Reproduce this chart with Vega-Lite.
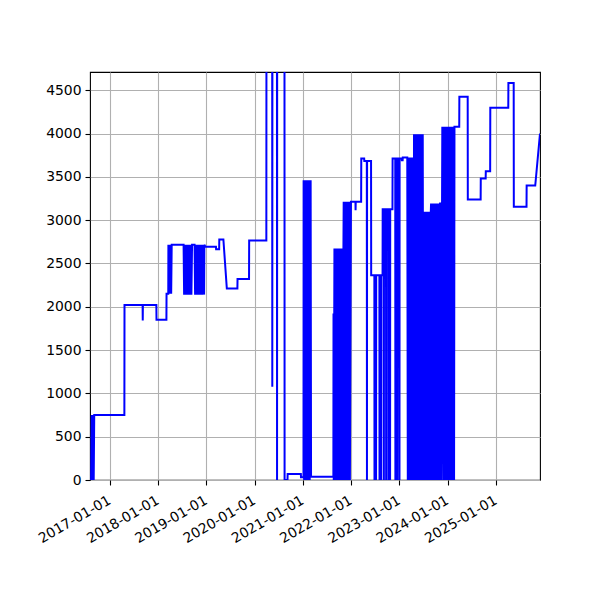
{
  "$schema": "https://vega.github.io/schema/vega-lite/v6.json",
  "width": 450,
  "height": 408,
  "autosize": {"type": "none"},
  "padding": {"left": 90, "top": 72, "right": 60, "bottom": 120},
  "background": "white",
  "data": {
    "values": [
      {"date": "2016-08-12", "value": 0},
      {"date": "2016-08-17", "value": 750},
      {"date": "2016-08-22", "value": 0},
      {"date": "2016-08-27", "value": 750},
      {"date": "2016-09-01", "value": 0},
      {"date": "2016-09-05", "value": 750},
      {"date": "2017-04-21", "value": 750},
      {"date": "2017-04-22", "value": 2020},
      {"date": "2017-09-06", "value": 2020},
      {"date": "2017-09-07", "value": 1840},
      {"date": "2017-09-08", "value": 2020},
      {"date": "2017-12-19", "value": 2020},
      {"date": "2017-12-20", "value": 1850},
      {"date": "2018-03-05", "value": 1850},
      {"date": "2018-03-06", "value": 2150},
      {"date": "2018-03-19", "value": 2150},
      {"date": "2018-03-20", "value": 2715},
      {"date": "2018-03-27", "value": 2150},
      {"date": "2018-04-03", "value": 2715},
      {"date": "2018-04-10", "value": 2150},
      {"date": "2018-04-14", "value": 2715},
      {"date": "2018-07-13", "value": 2715},
      {"date": "2018-07-17", "value": 2140},
      {"date": "2018-07-24", "value": 2715},
      {"date": "2018-07-31", "value": 2140},
      {"date": "2018-08-07", "value": 2715},
      {"date": "2018-08-14", "value": 2140},
      {"date": "2018-08-21", "value": 2715},
      {"date": "2018-08-28", "value": 2140},
      {"date": "2018-09-04", "value": 2715},
      {"date": "2018-09-10", "value": 2140},
      {"date": "2018-09-15", "value": 2715},
      {"date": "2018-10-04", "value": 2715},
      {"date": "2018-10-08", "value": 2140},
      {"date": "2018-10-15", "value": 2715},
      {"date": "2018-10-22", "value": 2140},
      {"date": "2018-10-29", "value": 2715},
      {"date": "2018-11-05", "value": 2140},
      {"date": "2018-11-12", "value": 2715},
      {"date": "2018-11-19", "value": 2140},
      {"date": "2018-11-26", "value": 2715},
      {"date": "2018-12-03", "value": 2140},
      {"date": "2018-12-10", "value": 2715},
      {"date": "2018-12-15", "value": 2140},
      {"date": "2018-12-17", "value": 2715},
      {"date": "2018-12-25", "value": 2692},
      {"date": "2019-03-15", "value": 2692},
      {"date": "2019-03-16", "value": 2665},
      {"date": "2019-04-08", "value": 2665},
      {"date": "2019-04-09", "value": 2777},
      {"date": "2019-05-10", "value": 2777},
      {"date": "2019-06-05", "value": 2210},
      {"date": "2019-08-24", "value": 2210},
      {"date": "2019-08-25", "value": 2320},
      {"date": "2019-11-20", "value": 2320},
      {"date": "2019-11-21", "value": 2765},
      {"date": "2020-03-30", "value": 2765},
      {"date": "2020-03-31", "value": 6000},
      {"date": "2020-05-13", "value": 6000},
      {"date": "2020-05-14", "value": 1077},
      {"date": "2020-05-15", "value": 6000},
      {"date": "2020-06-18", "value": 6000},
      {"date": "2020-06-19", "value": 0},
      {"date": "2020-06-20", "value": 6000},
      {"date": "2020-08-14", "value": 6000},
      {"date": "2020-08-15", "value": 0},
      {"date": "2020-09-06", "value": 0},
      {"date": "2020-09-07", "value": 69},
      {"date": "2020-12-16", "value": 69},
      {"date": "2020-12-17", "value": 31},
      {"date": "2021-01-05", "value": 31},
      {"date": "2021-01-06", "value": 3461},
      {"date": "2021-01-10", "value": 0},
      {"date": "2021-01-17", "value": 3461},
      {"date": "2021-01-24", "value": 0},
      {"date": "2021-01-31", "value": 3461},
      {"date": "2021-02-07", "value": 0},
      {"date": "2021-02-14", "value": 3461},
      {"date": "2021-02-21", "value": 0},
      {"date": "2021-02-28", "value": 3461},
      {"date": "2021-03-03", "value": 38},
      {"date": "2021-08-19", "value": 38},
      {"date": "2021-08-20", "value": 1923},
      {"date": "2021-08-22", "value": 0},
      {"date": "2021-08-27", "value": 2673},
      {"date": "2021-09-03", "value": 0},
      {"date": "2021-09-10", "value": 2673},
      {"date": "2021-09-17", "value": 0},
      {"date": "2021-09-24", "value": 2673},
      {"date": "2021-10-01", "value": 0},
      {"date": "2021-10-08", "value": 2673},
      {"date": "2021-10-15", "value": 0},
      {"date": "2021-10-22", "value": 2673},
      {"date": "2021-10-29", "value": 0},
      {"date": "2021-11-03", "value": 2673},
      {"date": "2021-11-05", "value": 3211},
      {"date": "2021-11-10", "value": 0},
      {"date": "2021-11-17", "value": 3211},
      {"date": "2021-11-24", "value": 0},
      {"date": "2021-12-01", "value": 3211},
      {"date": "2021-12-08", "value": 0},
      {"date": "2021-12-15", "value": 3211},
      {"date": "2021-12-22", "value": 0},
      {"date": "2021-12-30", "value": 3211},
      {"date": "2022-02-02", "value": 3211},
      {"date": "2022-02-03", "value": 3115},
      {"date": "2022-02-04", "value": 3211},
      {"date": "2022-03-17", "value": 3211},
      {"date": "2022-03-18", "value": 3710},
      {"date": "2022-04-09", "value": 3710},
      {"date": "2022-04-10", "value": 3684},
      {"date": "2022-04-29", "value": 3684},
      {"date": "2022-04-30", "value": 0},
      {"date": "2022-05-01", "value": 3684},
      {"date": "2022-05-31", "value": 3684},
      {"date": "2022-06-01", "value": 2365},
      {"date": "2022-06-25", "value": 2365},
      {"date": "2022-06-26", "value": 0},
      {"date": "2022-06-27", "value": 2365},
      {"date": "2022-07-07", "value": 2365},
      {"date": "2022-07-08", "value": 0},
      {"date": "2022-07-09", "value": 2365},
      {"date": "2022-08-02", "value": 2365},
      {"date": "2022-08-03", "value": 0},
      {"date": "2022-08-04", "value": 2365},
      {"date": "2022-08-15", "value": 2365},
      {"date": "2022-08-16", "value": 0},
      {"date": "2022-08-17", "value": 2365},
      {"date": "2022-08-26", "value": 2365},
      {"date": "2022-08-27", "value": 3127},
      {"date": "2022-09-04", "value": 3127},
      {"date": "2022-09-05", "value": 0},
      {"date": "2022-09-06", "value": 3127},
      {"date": "2022-09-21", "value": 3127},
      {"date": "2022-09-22", "value": 0},
      {"date": "2022-09-23", "value": 3127},
      {"date": "2022-10-08", "value": 3127},
      {"date": "2022-10-09", "value": 0},
      {"date": "2022-10-10", "value": 3127},
      {"date": "2022-10-21", "value": 3127},
      {"date": "2022-10-22", "value": 0},
      {"date": "2022-10-23", "value": 3127},
      {"date": "2022-11-09", "value": 3127},
      {"date": "2022-11-10", "value": 3710},
      {"date": "2022-11-30", "value": 3710},
      {"date": "2022-12-01", "value": 0},
      {"date": "2022-12-02", "value": 3710},
      {"date": "2022-12-15", "value": 3710},
      {"date": "2022-12-16", "value": 0},
      {"date": "2022-12-17", "value": 3710},
      {"date": "2022-12-31", "value": 3710},
      {"date": "2023-01-01", "value": 0},
      {"date": "2023-01-02", "value": 3710},
      {"date": "2023-01-18", "value": 3710},
      {"date": "2023-01-19", "value": 3690},
      {"date": "2023-01-25", "value": 3690},
      {"date": "2023-01-26", "value": 3723},
      {"date": "2023-03-01", "value": 3723},
      {"date": "2023-03-05", "value": 0},
      {"date": "2023-03-12", "value": 3723},
      {"date": "2023-03-19", "value": 0},
      {"date": "2023-03-26", "value": 3723},
      {"date": "2023-04-02", "value": 0},
      {"date": "2023-04-09", "value": 3723},
      {"date": "2023-04-16", "value": 0},
      {"date": "2023-04-21", "value": 3992},
      {"date": "2023-04-28", "value": 0},
      {"date": "2023-05-05", "value": 3992},
      {"date": "2023-05-12", "value": 0},
      {"date": "2023-05-19", "value": 3992},
      {"date": "2023-05-26", "value": 0},
      {"date": "2023-06-02", "value": 3992},
      {"date": "2023-06-09", "value": 0},
      {"date": "2023-06-16", "value": 3992},
      {"date": "2023-06-22", "value": 0},
      {"date": "2023-06-26", "value": 3992},
      {"date": "2023-06-30", "value": 0},
      {"date": "2023-07-03", "value": 3096},
      {"date": "2023-07-10", "value": 0},
      {"date": "2023-07-17", "value": 3096},
      {"date": "2023-07-24", "value": 0},
      {"date": "2023-07-31", "value": 3096},
      {"date": "2023-08-07", "value": 0},
      {"date": "2023-08-14", "value": 3096},
      {"date": "2023-08-21", "value": 0},
      {"date": "2023-08-26", "value": 3096},
      {"date": "2023-08-28", "value": 3192},
      {"date": "2023-09-02", "value": 0},
      {"date": "2023-09-09", "value": 3192},
      {"date": "2023-09-16", "value": 0},
      {"date": "2023-09-23", "value": 3192},
      {"date": "2023-09-30", "value": 0},
      {"date": "2023-10-07", "value": 3192},
      {"date": "2023-10-14", "value": 0},
      {"date": "2023-10-21", "value": 3192},
      {"date": "2023-10-28", "value": 0},
      {"date": "2023-11-04", "value": 3192},
      {"date": "2023-11-09", "value": 3192},
      {"date": "2023-11-12", "value": 0},
      {"date": "2023-11-21", "value": 4077},
      {"date": "2023-11-28", "value": 0},
      {"date": "2023-12-05", "value": 4077},
      {"date": "2023-12-12", "value": 0},
      {"date": "2023-12-19", "value": 4077},
      {"date": "2023-12-26", "value": 0},
      {"date": "2024-01-02", "value": 4077},
      {"date": "2024-01-09", "value": 0},
      {"date": "2024-01-16", "value": 4077},
      {"date": "2024-01-23", "value": 0},
      {"date": "2024-01-30", "value": 4077},
      {"date": "2024-02-06", "value": 0},
      {"date": "2024-02-13", "value": 4077},
      {"date": "2024-02-18", "value": 0},
      {"date": "2024-02-21", "value": 4077},
      {"date": "2024-03-28", "value": 4077},
      {"date": "2024-03-29", "value": 4423},
      {"date": "2024-05-31", "value": 4423},
      {"date": "2024-06-01", "value": 3238},
      {"date": "2024-09-06", "value": 3238},
      {"date": "2024-09-07", "value": 3481},
      {"date": "2024-10-14", "value": 3481},
      {"date": "2024-10-15", "value": 3565},
      {"date": "2024-11-17", "value": 3565},
      {"date": "2024-11-18", "value": 4296},
      {"date": "2025-04-03", "value": 4296},
      {"date": "2025-04-04", "value": 4584},
      {"date": "2025-05-14", "value": 4584},
      {"date": "2025-05-15", "value": 3154},
      {"date": "2025-08-19", "value": 3154},
      {"date": "2025-08-20", "value": 3400},
      {"date": "2025-10-24", "value": 3400},
      {"date": "2025-11-29", "value": 4000}
    ]
  },
  "mark": {"type": "line", "color": "#0000ff", "strokeWidth": 2, "clip": true},
  "encoding": {
    "x": {
      "field": "date",
      "type": "temporal",
      "scale": {
        "type": "utc",
        "domain": [
          {"year": 2016, "month": 8, "date": 4, "utc": true},
          {"year": 2025, "month": 11, "date": 29, "utc": true}
        ]
      },
      "axis": {
        "title": null,
        "format": "%Y-%m-%d",
        "values": [
          {"year": 2017, "month": 1, "date": 1, "utc": true},
          {"year": 2018, "month": 1, "date": 1, "utc": true},
          {"year": 2019, "month": 1, "date": 1, "utc": true},
          {"year": 2020, "month": 1, "date": 1, "utc": true},
          {"year": 2021, "month": 1, "date": 1, "utc": true},
          {"year": 2022, "month": 1, "date": 1, "utc": true},
          {"year": 2023, "month": 1, "date": 1, "utc": true},
          {"year": 2024, "month": 1, "date": 1, "utc": true},
          {"year": 2025, "month": 1, "date": 1, "utc": true}
        ],
        "labelAngle": -30,
        "labelAlign": "right",
        "labelBaseline": "top",
        "labelPadding": 8,
        "labelOffset": -4
      }
    },
    "y": {
      "field": "value",
      "type": "quantitative",
      "scale": {"domain": [0, 4710], "nice": false, "zero": true},
      "axis": {
        "title": null,
        "values": [0, 500, 1000, 1500, 2000, 2500, 3000, 3500, 4000, 4500],
        "format": "d",
        "labelPadding": 4
      }
    }
  },
  "config": {
    "view": {"stroke": "black", "strokeWidth": 1.1},
    "axis": {
      "grid": true,
      "gridColor": "#b0b0b0",
      "gridWidth": 1.1,
      "gridOpacity": 1,
      "domain": false,
      "tickColor": "black",
      "tickWidth": 1.1,
      "tickSize": 5,
      "labelColor": "black",
      "labelFont": "DejaVu Sans",
      "labelFontSize": 13.9,
      "labelOverlap": false,
      "labelFlush": false
    }
  }
}
